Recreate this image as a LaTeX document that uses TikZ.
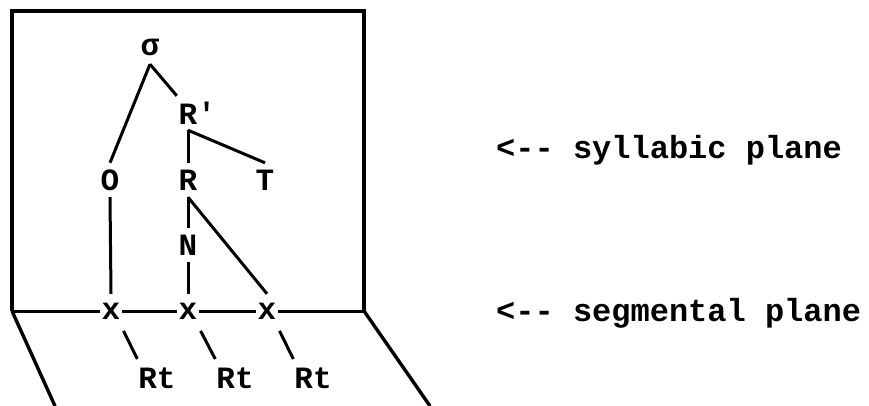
\documentclass[tikz,border=0pt]{standalone}
\usepackage{fontspec}
\setmonofont{Liberation Mono}
\usepackage{tikz}
\newcommand{\tw}{\ttfamily\bfseries}

\begin{document}
\begin{tikzpicture}[x=1pt,y=-1pt,
    unit/.style={font=\tw\fontsize{31}{31}\selectfont, inner sep=0pt, minimum width=22pt, minimum height=34pt},
    planename/.style={font=\tw\fontsize{32}{32}\selectfont, inner sep=0pt, anchor=west},
    frame/.style={line width=3.4pt},
    branch/.style={line width=3pt}]
    \useasboundingbox (0,0) rectangle (869,406);
    % syllable tree
    \node[unit] (sigma) at (150,47) {σ}; \node[unit] (Rp) at (188,113) {R\rlap{'}};
    \node[unit] (O) at (110,180) {O}; \node[unit] (R) at (188,180) {R}; \node[unit] (T) at (265,180) {T};
    \node[unit] (N) at (188,245) {N};
    \node[unit] (x1) at (111,311) {x}; \node[unit] (x2) at (188,311) {x}; \node[unit] (x3) at (267,311) {x};
    \node[unit] (Rt1) at (157,378) {Rt}; \node[unit] (Rt2) at (235,378) {Rt}; \node[unit] (Rt3) at (313,378) {Rt};
    \draw[branch] (sigma.south) -- (O.north); \draw[branch] (sigma.south) -- (Rp.north west);
    \draw[branch] (Rp.south) -- (R.north); \draw[branch] (Rp.south) -- (T.north);
    \draw[branch] (O.south) -- (x1.north); \draw[branch] (R.south) -- (N.north); \draw[branch] (N.south) -- (x2.north); \draw[branch] (R.south) -- (x3.north);
    \draw[branch, shorten <=3pt, shorten >=2pt] (x1.south east) -- (Rt1.north west); \draw[branch, shorten <=3pt, shorten >=2pt] (x2.south east) -- (Rt2.north west); \draw[branch, shorten <=3pt, shorten >=2pt] (x3.south east) -- (Rt3.north west);
    % the two planes
    \coordinate (bl) at (12,311); \coordinate (br) at (364,311);
    \draw[frame, line join=miter] (bl) -- (12,11) -- (364,11) -- (br); \draw[frame] (bl) -- (55,406); \draw[frame] (br) -- (430,406);
    \draw[branch] (bl) -- (x1.west); \draw[branch] (x1.east) -- (x2.west); \draw[branch] (x2.east) -- (x3.west); \draw[branch] (x3.east) -- (br);
    \node[planename] (syl) at (496,150) {<-- syllabic plane};
    \node[planename] (seg) at (496,313) {<-- segmental plane};
\end{tikzpicture}
\end{document}
